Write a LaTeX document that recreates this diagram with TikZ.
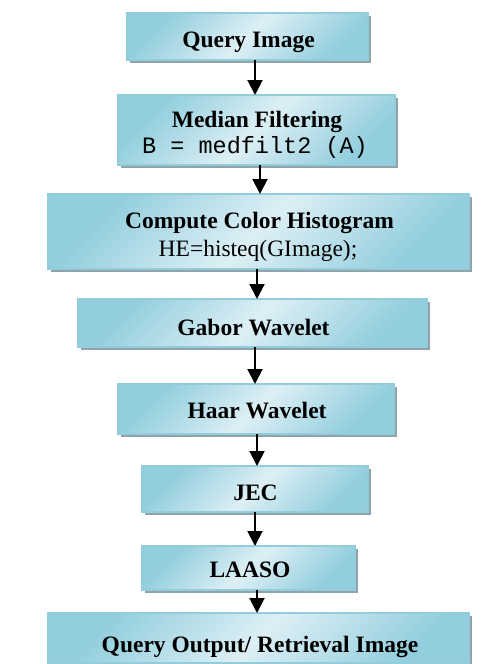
\documentclass[tikz,border=0pt]{standalone}
\usepackage{fontspec}
\setmainfont{Liberation Serif}
\setmonofont{Liberation Mono}
\usetikzlibrary{arrows.meta,shadows}
\definecolor{boxdark}{HTML}{92CEDD}
\definecolor{boxlight}{HTML}{DDEFF5}
\definecolor{boxline}{HTML}{93CDDB}
\definecolor{shadowgray}{HTML}{8FA3AB}
\tikzset{
  stepbox/.style={draw=boxline, line width=1.5pt,
    top color=boxdark, bottom color=boxdark, middle color=boxlight, shading angle=45,
    drop shadow={shadow xshift=3pt, shadow yshift=-3pt, fill=shadowgray, draw=none, opacity=1},
    inner sep=0pt, outer sep=0pt},
  lbl/.style={anchor=base, inner sep=0pt, font=\fontsize{23.5}{28}\selectfont\bfseries},
  lblr/.style={anchor=base, inner sep=0pt, font=\fontsize{23.5}{28}\selectfont},
  lblt/.style={anchor=base, inner sep=0pt, font=\fontsize{23.5}{28}\selectfont\ttfamily},
  arr/.style={line width=2pt, -{Triangle[length=15pt,width=15pt]}}
}
\begin{document}
\begin{tikzpicture}[x=1pt,y=-1pt]
\useasboundingbox (0,0) rectangle (503,664);
\node[stepbox, minimum width=241pt, minimum height=47pt] (b1) at (247.5,36.5) {};
\node[stepbox, minimum width=277pt, minimum height=70pt] (b2) at (256.5,130) {};
\node[stepbox, minimum width=421pt, minimum height=75pt] (b3) at (258.5,231.5) {};
\node[stepbox, minimum width=349pt, minimum height=48pt] (b4) at (252.5,323) {};
\node[stepbox, minimum width=276pt, minimum height=50pt] (b5) at (256,409) {};
\node[stepbox, minimum width=226pt, minimum height=46pt] (b6) at (255,489) {};
\node[stepbox, minimum width=213pt, minimum height=44pt] (b7) at (248.5,568) {};
\node[stepbox, minimum width=421pt, minimum height=50pt] (b8) at (258.5,638) {};

\node[lbl] (l1) at (248.5,47) {Query Image};
\node[lbl] (l2a) at (257,127) {Median Filtering};
\node[lblt] (l2b) at (255,153) {B = medfilt2 (A)};
\node[lbl] (l3a) at (259.5,228) {Compute Color Histogram};
\node[lblr] (l3b) at (258,256) {HE=histeq(GImage);};
\node[lbl] (l4) at (253.5,335) {Gabor Wavelet};
\node[lbl] (l5) at (257,418) {Haar Wavelet};
\node[lbl] (l6) at (255.5,500) {JEC};
\node[lbl] (l7) at (250,577) {LAASO};
\node[lbl] (l8) at (260,652) {Query Output/ Retrieval Image};

\draw[arr] ([xshift=7.5pt]b1.south) -- ([xshift=-1.5pt]b2.north);
\draw[arr] ([xshift=3.5pt]b2.south) -- ([xshift=1.5pt]b3.north);
\draw[arr] ([xshift=-1.5pt]b3.south) -- ([xshift=4.5pt]b4.north);
\draw[arr] ([xshift=2.5pt]b4.south) -- ([xshift=-1pt]b5.north);
\draw[arr] ([xshift=1pt]b5.south) -- ([xshift=2pt]b6.north);
\draw[arr] (b6.south) -- ([xshift=6.5pt]b7.north);
\draw[arr] ([xshift=8.5pt]b7.south) -- ([xshift=-1.5pt]b8.north);
\end{tikzpicture}
\end{document}
